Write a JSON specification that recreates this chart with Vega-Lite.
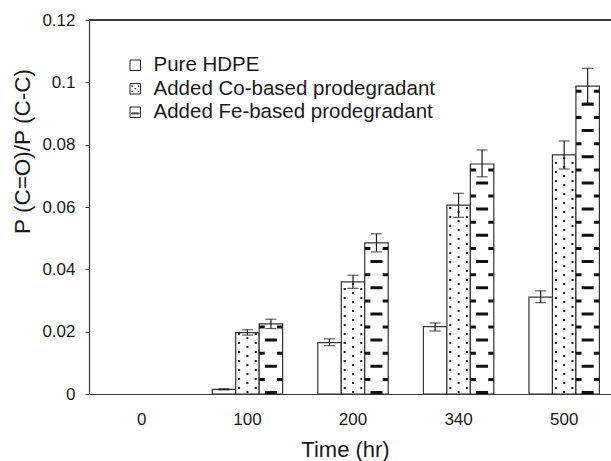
{
  "$schema": "https://vega.github.io/schema/vega-lite/v6.json",
  "width": 522,
  "height": 374,
  "autosize": {"type": "none"},
  "padding": {"left": 89, "top": 20, "right": 0, "bottom": 67},
  "background": "white",
  "config": {
    "view": {"stroke": null},
    "font": "Liberation Sans",
    "axis": {"labelFont": "Liberation Sans", "titleFont": "Liberation Sans", "labelColor": "#1a1a1a", "titleColor": "#1a1a1a", "grid": false, "domainColor": "#3a3a3a", "domainWidth": 1.2, "titleFontWeight": "normal"},
    "axisX": {"ticks": false, "labelPadding": 17, "labelFontSize": 17, "labelAngle": 0, "titleFontSize": 22, "titleX": 256, "titleY": 45, "titleAlign": "center", "titleBaseline": "top"},
    "axisY": {"tickSize": 4, "tickColor": "#3a3a3a", "labelPadding": 10, "labelFontSize": 17, "titleFontSize": 22.5, "titleX": -67, "titleY": 131, "titleAngle": -90, "titleAlign": "center", "titleBaseline": "middle"},
    "legend": {"labelFont": "Liberation Sans"}
  },
  "data": {
    "values": [
      {"time": "0", "series": "Pure HDPE", "value": 0, "low": 0, "high": 0},
      {"time": "0", "series": "Added Co-based prodegradant", "value": 0, "low": 0, "high": 0},
      {"time": "0", "series": "Added Fe-based prodegradant", "value": 0, "low": 0, "high": 0},
      {"time": "100", "series": "Pure HDPE", "value": 0.0015, "low": 0.0013, "high": 0.0017},
      {"time": "100", "series": "Added Co-based prodegradant", "value": 0.0197, "low": 0.0189, "high": 0.0206},
      {"time": "100", "series": "Added Fe-based prodegradant", "value": 0.0225, "low": 0.021, "high": 0.024},
      {"time": "200", "series": "Pure HDPE", "value": 0.0165, "low": 0.0155, "high": 0.0177},
      {"time": "200", "series": "Added Co-based prodegradant", "value": 0.036, "low": 0.0339, "high": 0.0381},
      {"time": "200", "series": "Added Fe-based prodegradant", "value": 0.0485, "low": 0.0456, "high": 0.0514},
      {"time": "340", "series": "Pure HDPE", "value": 0.0216, "low": 0.0202, "high": 0.0228},
      {"time": "340", "series": "Added Co-based prodegradant", "value": 0.0606, "low": 0.0567, "high": 0.0644},
      {"time": "340", "series": "Added Fe-based prodegradant", "value": 0.0738, "low": 0.0697, "high": 0.0783},
      {"time": "500", "series": "Pure HDPE", "value": 0.0311, "low": 0.0293, "high": 0.0331},
      {"time": "500", "series": "Added Co-based prodegradant", "value": 0.0767, "low": 0.0722, "high": 0.0812},
      {"time": "500", "series": "Added Fe-based prodegradant", "value": 0.0988, "low": 0.0933, "high": 0.1045}
    ]
  },
  "layer": [
    {
      "mark": {"type": "rule", "color": "#3a3a3a", "strokeWidth": 1.2},
      "encoding": {
        "y": {"datum": 0.12, "type": "quantitative", "title": "P (C=O)/P (C-C)", "scale": {"domain": [0, 0.12], "nice": false}, "axis": {"values": [0, 0.02, 0.04, 0.06, 0.08, 0.1, 0.12], "format": ".2~f", "titleFontSize": 22.5}}
      }
    },
    {
      "transform": [{"filter": "datum.value > 0"}],
      "mark": {"type": "bar", "fill": "white", "stroke": "#333333", "strokeWidth": 1.2},
      "encoding": {
        "x": {"field": "time", "type": "nominal", "title": "Time (hr)", "scale": {"domain": ["0", "100", "200", "340", "500"], "range": [0, 528], "paddingInner": 0.333, "paddingOuter": 0.1667}},
        "xOffset": {"field": "series", "type": "nominal", "scale": {"domain": ["Pure HDPE", "Added Co-based prodegradant", "Added Fe-based prodegradant"]}},
        "y": {"field": "value", "type": "quantitative", "title": "P (C=O)/P (C-C)", "scale": {"domain": [0, 0.12], "nice": false}, "axis": {"values": [0, 0.02, 0.04, 0.06, 0.08, 0.1, 0.12], "format": ".2~f", "titleFontSize": 22.5}}
      }
    },
    {
      "transform": [{"filter": "datum.value < 0"}],
      "mark": {"type": "point", "filled": false, "color": "#222222", "strokeWidth": 1, "opacity": 1},
      "encoding": {
        "x": {"field": "time", "type": "nominal", "title": "Time (hr)", "scale": {"domain": ["0", "100", "200", "340", "500"], "range": [0, 528], "paddingInner": 0.333, "paddingOuter": 0.1667}},
        "y": {"field": "value", "type": "quantitative", "title": "P (C=O)/P (C-C)", "scale": {"domain": [0, 0.12], "nice": false}, "axis": {"values": [0, 0.02, 0.04, 0.06, 0.08, 0.1, 0.12], "format": ".2~f", "titleFontSize": 22.5}},
        "shape": {
          "field": "series", "type": "nominal",
          "scale": {"domain": ["Pure HDPE", "Added Co-based prodegradant", "Added Fe-based prodegradant"], "range": ["square", "M-1,-1H1V1H-1Z M-0.66,-0.56h0.12v0.12h-0.12Z M0.54,-0.56h0.12v0.12h-0.12Z M-0.66,0.44h0.12v0.12h-0.12Z M0.54,0.44h0.12v0.12h-0.12Z M-0.06,-0.06h0.12v0.12h-0.12Z", "M-1,-1H1V1H-1Z M-0.7,0.14H0.7V0.3H-0.7Z"]},
          "legend": {
            "orient": "none", "legendX": 36, "legendY": 35, "title": null, "padding": 0,
            "symbolSize": 110, "symbolStrokeWidth": 1, "symbolStrokeColor": "#222222", "symbolOpacity": 1,
            "labelFontSize": 20.5, "labelColor": "#1a1a1a", "labelOffset": 8, "labelLimit": 500, "rowPadding": 2.5
          }
        }
      }
    },
    {
      "transform": [{"filter": "datum.series === 'Added Co-based prodegradant' && datum.value > 0"}],
      "mark": {"type": "rule", "color": "#222222", "strokeWidth": 2, "strokeDash": [2, 7], "strokeDashOffset": {"expr": "7 - (scale('y', 0) - scale('y', datum.value))"}, "xOffset": -8.3},
      "encoding": {
        "x": {"field": "time", "type": "nominal", "title": "Time (hr)", "scale": {"domain": ["0", "100", "200", "340", "500"], "range": [0, 528], "paddingInner": 0.333, "paddingOuter": 0.1667}},
        "y": {"field": "value", "type": "quantitative", "title": "P (C=O)/P (C-C)", "scale": {"domain": [0, 0.12], "nice": false}, "axis": {"values": [0, 0.02, 0.04, 0.06, 0.08, 0.1, 0.12], "format": ".2~f", "titleFontSize": 22.5}},
        "y2": {"datum": 0}
      }
    },
    {
      "transform": [{"filter": "datum.series === 'Added Co-based prodegradant' && datum.value > 0"}],
      "mark": {"type": "rule", "color": "#222222", "strokeWidth": 2, "strokeDash": [2, 7], "strokeDashOffset": {"expr": "3 - (scale('y', 0) - scale('y', datum.value))"}, "xOffset": 0},
      "encoding": {
        "x": {"field": "time", "type": "nominal", "title": "Time (hr)", "scale": {"domain": ["0", "100", "200", "340", "500"], "range": [0, 528], "paddingInner": 0.333, "paddingOuter": 0.1667}},
        "y": {"field": "value", "type": "quantitative", "title": "P (C=O)/P (C-C)", "scale": {"domain": [0, 0.12], "nice": false}, "axis": {"values": [0, 0.02, 0.04, 0.06, 0.08, 0.1, 0.12], "format": ".2~f", "titleFontSize": 22.5}},
        "y2": {"datum": 0}
      }
    },
    {
      "transform": [{"filter": "datum.series === 'Added Co-based prodegradant' && datum.value > 0"}],
      "mark": {"type": "rule", "color": "#222222", "strokeWidth": 2, "strokeDash": [2, 7], "strokeDashOffset": {"expr": "7 - (scale('y', 0) - scale('y', datum.value))"}, "xOffset": 8.3},
      "encoding": {
        "x": {"field": "time", "type": "nominal", "title": "Time (hr)", "scale": {"domain": ["0", "100", "200", "340", "500"], "range": [0, 528], "paddingInner": 0.333, "paddingOuter": 0.1667}},
        "y": {"field": "value", "type": "quantitative", "title": "P (C=O)/P (C-C)", "scale": {"domain": [0, 0.12], "nice": false}, "axis": {"values": [0, 0.02, 0.04, 0.06, 0.08, 0.1, 0.12], "format": ".2~f", "titleFontSize": 22.5}},
        "y2": {"datum": 0}
      }
    },
    {
      "transform": [{"filter": "datum.series === 'Added Fe-based prodegradant' && datum.value > 0"}],
      "mark": {"type": "rule", "color": "#111111", "strokeWidth": 12, "strokeDash": [3, 23.2], "strokeDashOffset": {"expr": "3 - (scale('y', 0) - scale('y', datum.value))"}, "xOffset": 23.47},
      "encoding": {
        "x": {"field": "time", "type": "nominal", "title": "Time (hr)", "scale": {"domain": ["0", "100", "200", "340", "500"], "range": [0, 528], "paddingInner": 0.333, "paddingOuter": 0.1667}},
        "y": {"field": "value", "type": "quantitative", "title": "P (C=O)/P (C-C)", "scale": {"domain": [0, 0.12], "nice": false}, "axis": {"values": [0, 0.02, 0.04, 0.06, 0.08, 0.1, 0.12], "format": ".2~f", "titleFontSize": 22.5}},
        "y2": {"datum": 0}
      }
    },
    {
      "transform": [{"filter": "datum.series === 'Added Fe-based prodegradant' && datum.value > 0"}],
      "mark": {"type": "rule", "color": "#111111", "strokeWidth": 5.5, "strokeDash": [3, 23.2], "strokeDashOffset": {"expr": "16 - (scale('y', 0) - scale('y', datum.value))"}, "xOffset": 14.6},
      "encoding": {
        "x": {"field": "time", "type": "nominal", "title": "Time (hr)", "scale": {"domain": ["0", "100", "200", "340", "500"], "range": [0, 528], "paddingInner": 0.333, "paddingOuter": 0.1667}},
        "y": {"field": "value", "type": "quantitative", "title": "P (C=O)/P (C-C)", "scale": {"domain": [0, 0.12], "nice": false}, "axis": {"values": [0, 0.02, 0.04, 0.06, 0.08, 0.1, 0.12], "format": ".2~f", "titleFontSize": 22.5}},
        "y2": {"datum": 0}
      }
    },
    {
      "transform": [{"filter": "datum.series === 'Added Fe-based prodegradant' && datum.value > 0"}],
      "mark": {"type": "rule", "color": "#111111", "strokeWidth": 5.5, "strokeDash": [3, 23.2], "strokeDashOffset": {"expr": "16 - (scale('y', 0) - scale('y', datum.value))"}, "xOffset": 32.4},
      "encoding": {
        "x": {"field": "time", "type": "nominal", "title": "Time (hr)", "scale": {"domain": ["0", "100", "200", "340", "500"], "range": [0, 528], "paddingInner": 0.333, "paddingOuter": 0.1667}},
        "y": {"field": "value", "type": "quantitative", "title": "P (C=O)/P (C-C)", "scale": {"domain": [0, 0.12], "nice": false}, "axis": {"values": [0, 0.02, 0.04, 0.06, 0.08, 0.1, 0.12], "format": ".2~f", "titleFontSize": 22.5}},
        "y2": {"datum": 0}
      }
    },
    {
      "transform": [{"filter": "datum.value > 0"}],
      "mark": {"type": "rule", "color": "#1a1a1a", "strokeWidth": 1.2},
      "encoding": {
        "x": {"field": "time", "type": "nominal", "title": "Time (hr)", "scale": {"domain": ["0", "100", "200", "340", "500"], "range": [0, 528], "paddingInner": 0.333, "paddingOuter": 0.1667}},
        "xOffset": {"field": "series", "type": "nominal", "scale": {"domain": ["Pure HDPE", "Added Co-based prodegradant", "Added Fe-based prodegradant"]}},
        "y": {"field": "low", "type": "quantitative", "title": "P (C=O)/P (C-C)", "scale": {"domain": [0, 0.12], "nice": false}, "axis": {"values": [0, 0.02, 0.04, 0.06, 0.08, 0.1, 0.12], "format": ".2~f", "titleFontSize": 22.5}},
        "y2": {"field": "high"}
      }
    },
    {
      "transform": [{"filter": "datum.value > 0"}],
      "mark": {"type": "tick", "color": "#1a1a1a", "thickness": 1.2, "size": 11},
      "encoding": {
        "x": {"field": "time", "type": "nominal", "title": "Time (hr)", "scale": {"domain": ["0", "100", "200", "340", "500"], "range": [0, 528], "paddingInner": 0.333, "paddingOuter": 0.1667}},
        "xOffset": {"field": "series", "type": "nominal", "scale": {"domain": ["Pure HDPE", "Added Co-based prodegradant", "Added Fe-based prodegradant"]}},
        "y": {"field": "low", "type": "quantitative", "title": "P (C=O)/P (C-C)", "scale": {"domain": [0, 0.12], "nice": false}, "axis": {"values": [0, 0.02, 0.04, 0.06, 0.08, 0.1, 0.12], "format": ".2~f", "titleFontSize": 22.5}}
      }
    },
    {
      "transform": [{"filter": "datum.value > 0"}],
      "mark": {"type": "tick", "color": "#1a1a1a", "thickness": 1.2, "size": 11},
      "encoding": {
        "x": {"field": "time", "type": "nominal", "title": "Time (hr)", "scale": {"domain": ["0", "100", "200", "340", "500"], "range": [0, 528], "paddingInner": 0.333, "paddingOuter": 0.1667}},
        "xOffset": {"field": "series", "type": "nominal", "scale": {"domain": ["Pure HDPE", "Added Co-based prodegradant", "Added Fe-based prodegradant"]}},
        "y": {"field": "high", "type": "quantitative", "title": "P (C=O)/P (C-C)", "scale": {"domain": [0, 0.12], "nice": false}, "axis": {"values": [0, 0.02, 0.04, 0.06, 0.08, 0.1, 0.12], "format": ".2~f", "titleFontSize": 22.5}}
      }
    }
  ]
}
